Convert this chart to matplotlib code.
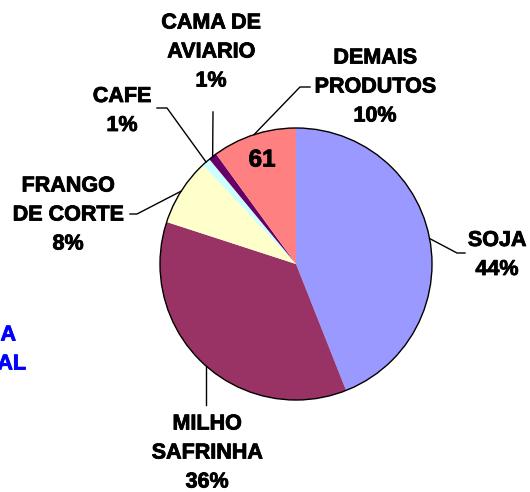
import matplotlib
matplotlib.use('Agg')
import matplotlib.pyplot as plt
import matplotlib.patheffects as pe
import numpy as np

# dados do grafico
produtos = ['SOJA', 'MILHO\nSAFRINHA', 'FRANGO\nDE CORTE', 'CAFE', 'CAMA DE\nAVIARIO', 'DEMAIS\nPRODUTOS']
valores = [44, 36, 8, 1, 1, 10]
cores = ['#9999FF', '#993366', '#FFFFCC', '#CCFFFF', '#660066', '#FF8080']
rotulo_interno = '61'

W, H = 530, 492
def P(x, y):
    # pixel -> coordenada do eixo (y para cima)
    return x, H - y

plt.rcParams['font.family'] = ['Liberation Sans', 'DejaVu Sans']
fig = plt.figure(figsize=(W / 100, H / 100), dpi=100)
ax = fig.add_axes([0, 0, 1, 1])

cx, cy = P(296, 264)
R = 136
wedges, _ = ax.pie(valores, colors=cores, startangle=90, counterclock=False,
                   center=(cx, cy), radius=R, wedgeprops=dict(linewidth=0))
ax.add_patch(plt.Circle((cx, cy), R, fill=False, edgecolor='black', linewidth=1.0))

# posicao dos rotulos (pixels) e pontos de quebra das linhas guia
lab_pos = [(497, 255), (207, 453), (68, 215), (122, 111), (211, 52), (375, 87)]
guias = [[(457, 253), (465, 253)],
         [(206, 405)],
         [(137, 214), (130, 214)],
         [(167, 108), (157, 108)],
         [(213, 112)],
         [(300, 87), (310, 87)]]

grosso = [pe.withStroke(linewidth=0.6, foreground='black')]

tot = float(sum(valores))
for w, nome, v, pos, g in zip(wedges, produtos, valores, lab_pos, guias):
    ang = np.deg2rad((w.theta1 + w.theta2) / 2)
    x0 = cx + R * np.cos(ang)
    y0 = cy + R * np.sin(ang)
    if len(g) == 1 and g[0][0] == 206:
        x0 = g[0][0]
        y0 = cy - np.sqrt(R ** 2 - (x0 - cx) ** 2)
    pts = [(x0, y0)] + [P(*p) for p in g]
    xs, ys = zip(*pts)
    ax.plot(xs, ys, color='black', linewidth=1.0)
    pct = '%d%%' % round(v / tot * 100)
    ax.text(*P(*pos), nome + '\n' + pct, ha='center', va='center',
            fontsize=15.5, fontweight='bold', linespacing=1.5, path_effects=grosso)

# valor dentro da fatia DEMAIS
ax.text(*P(262, 160), rotulo_interno, ha='center', va='center', fontsize=17.5,
        fontweight='bold', path_effects=grosso)

# texto azul cortado na borda esquerda
azul = [pe.withStroke(linewidth=0.6, foreground='#0000FF')]
ax.text(*P(16, 335), 'A', ha='right', va='center', fontsize=15.5, fontweight='bold',
        color='#0000FF', path_effects=azul)
ax.text(*P(26, 364), 'AL', ha='right', va='center', fontsize=15.5, fontweight='bold',
        color='#0000FF', path_effects=azul)

ax.set_xlim(0, W)
ax.set_ylim(0, H)
ax.set_aspect('equal')
ax.axis('off')
fig.savefig('out.png', dpi=100)
